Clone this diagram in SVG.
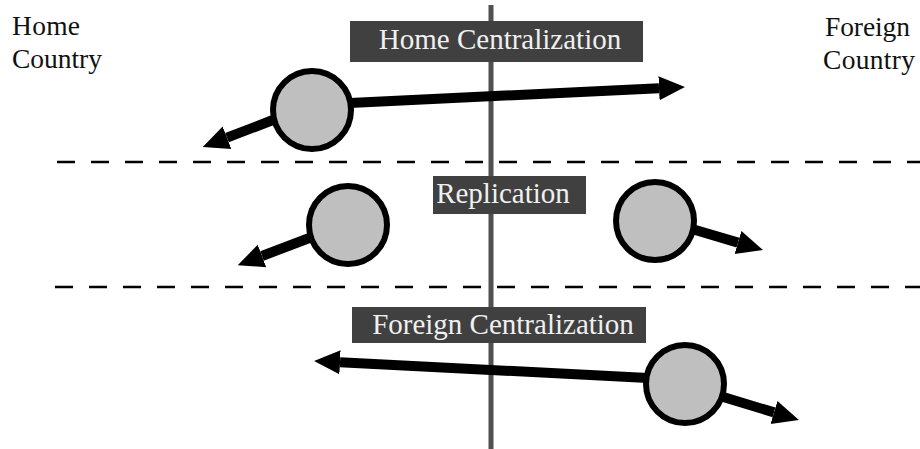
<svg xmlns="http://www.w3.org/2000/svg" width="920" height="449" viewBox="0 0 920 449">
<style>
text{font-family:'Liberation Serif','DejaVu Serif','Times New Roman',serif}
.lbl{font-size:27.5px;fill:#111}
.btxt{font-size:29px;fill:#f0f0f0;text-anchor:middle}
.box{fill:#404040}
.dash{stroke:#000;stroke-width:2.5;stroke-dasharray:18 16;fill:none}
.arr{stroke:#000;stroke-width:10;fill:none;marker-end:url(#ah)}
.node{fill:#bfbfbf;stroke:#000;stroke-width:6}
</style>
<defs>
<marker id="ah" markerUnits="userSpaceOnUse" viewBox="0 -15 30 30" markerWidth="30" markerHeight="30" refX="0" refY="0" orient="auto">
<path d="M0,-12 L26,0 L0,12 z" fill="#000"/>
</marker>
</defs>
<rect width="920" height="449" fill="#fff"/>
<g id="guides">
<line class="dash" x1="57" y1="162" x2="920" y2="162"/>
<line class="dash" x1="55" y1="287" x2="920" y2="287"/>
<line x1="491" y1="5" x2="491" y2="449" stroke="#505050" stroke-width="5"/>
</g>
<g id="label-home">
<text class="lbl" x="12" y="35" textLength="68">Home</text>
<text class="lbl" x="12" y="68" textLength="90">Country</text>
</g>
<g id="label-foreign">
<text class="lbl" x="825" y="36" textLength="85">Foreign</text>
<text class="lbl" x="823" y="69" textLength="92">Country</text>
</g>
<g id="box-home-centralization">
<rect class="box" x="350" y="21" width="293" height="41"/>
<text class="btxt" x="500" y="49">Home Centralization</text>
</g>
<g id="box-replication">
<rect class="box" x="433" y="176" width="153" height="38"/>
<text class="btxt" x="503" y="203">Replication</text>
</g>
<g id="box-foreign-centralization">
<rect class="box" x="352" y="307" width="294" height="36"/>
<text class="btxt" x="503" y="334">Foreign Centralization</text>
</g>
<g id="connectors">
<line class="arr" x1="350" y1="103" x2="659" y2="88.2"/>
<line class="arr" x1="278" y1="118" x2="227" y2="137.7"/>
<line class="arr" x1="312" y1="237" x2="262" y2="256"/>
<line class="arr" x1="692" y1="229" x2="738" y2="242.6"/>
<line class="arr" x1="648" y1="378" x2="340" y2="362.3"/>
<line class="arr" x1="720" y1="396" x2="774" y2="412.4"/>
</g>
<g id="node-home-1"><circle class="node" cx="312" cy="110" r="39"/></g>
<g id="node-rep-left"><circle class="node" cx="348" cy="225" r="39"/></g>
<g id="node-rep-right"><circle class="node" cx="655" cy="221" r="39"/></g>
<g id="node-foreign-1"><circle class="node" cx="685" cy="384" r="39"/></g>
</svg>
